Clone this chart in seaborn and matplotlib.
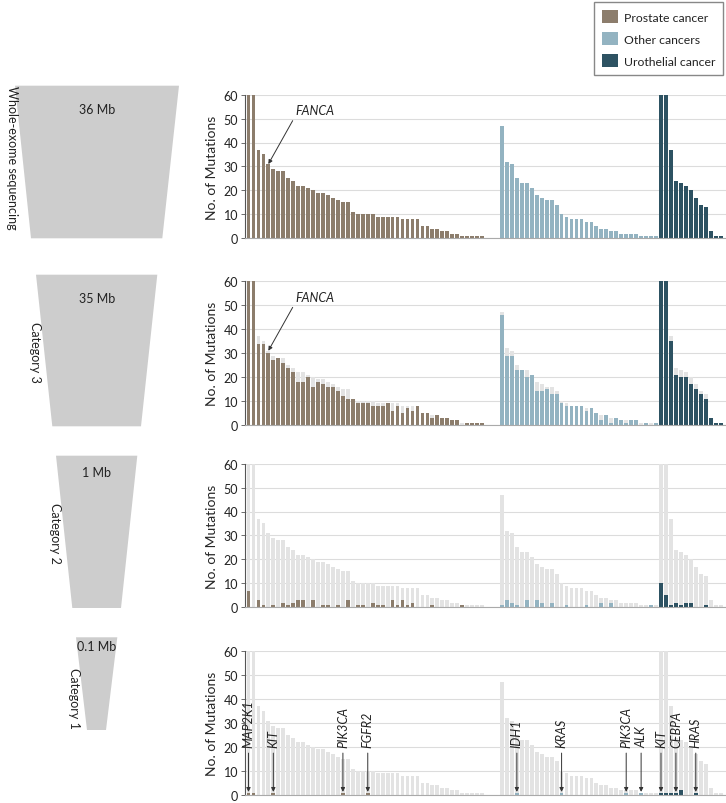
import numpy as np
import pandas as pd
import matplotlib
matplotlib.use('Agg')
import matplotlib.pyplot as plt
from matplotlib.patches import Patch, Polygon
import seaborn as sns

# ── data ────────────────────────────────────────────────────
groups = ['Prostate cancer', 'Other cancers', 'Urothelial cancer']
colors = ['#8c7d6c', '#93b3c1', '#2d5262']
group_start = [0, 51, 83]          # slot where each group begins (gap after prostate)

# whole-exome sequencing (first two bars run off the 60 scale)
pros_wes = [75, 68, 37, 35, 31, 29, 28, 28, 25, 24, 22, 22, 21, 20, 19, 19, 18, 17, 16, 15,
            15, 11, 10, 10, 10, 10, 9, 9, 9, 9, 9, 8, 8, 8, 8, 5, 5, 4, 4, 3,
            3, 2, 2, 1, 1, 1, 1, 1]
other_wes = [47, 32, 31, 25, 23, 23, 21, 18, 17, 16, 16, 14, 10, 9, 8, 8, 8, 7, 7, 5,
             4, 4, 3, 3, 2, 2, 2, 2, 1, 1, 1, 1]
uro_wes = [75, 70, 37, 24, 23, 22, 20, 17, 14, 13, 3, 1, 1]

# category 3
pros_c3 = [75, 68, 34, 34, 30, 27, 28, 26, 24, 22, 18, 18, 20, 16, 18, 17, 16, 16, 14, 12,
           11, 11, 9, 9, 9, 8, 8, 8, 9, 6, 8, 5, 7, 6, 8, 5, 5, 3, 4, 3,
           3, 2, 2, 0, 1, 1, 1, 1]
other_c3 = [46, 29, 29, 23, 23, 20, 21, 14, 14, 15, 13, 13, 9, 8, 8, 8, 8, 6, 7, 5,
            2, 4, 1, 3, 2, 1, 2, 2, 0, 1, 0, 1]
uro_c3 = [75, 70, 35, 21, 20, 20, 17, 15, 13, 11, 3, 1, 1]

# category 2
pros_c2 = [7, 0, 3, 1, 0, 1, 0, 2, 1, 2, 3, 3, 0, 3, 0, 1, 1, 0, 1, 0,
           3, 0, 1, 1, 0, 2, 1, 1, 0, 3, 1, 3, 1, 2, 0, 0, 0, 1, 0, 0,
           0, 0, 0, 1, 0, 0, 0, 0]
other_c2 = [1, 3, 2, 1, 0, 3, 0, 3, 2, 0, 2, 0, 0, 1, 0, 0, 0, 1, 0, 0,
            2, 0, 2, 0, 0, 0, 0, 0, 0, 0, 1, 0]
uro_c2 = [10, 5, 1, 2, 1, 2, 2, 0, 0, 1, 0, 0, 0]

# category 1
pros_c1 = [1, 1, 0, 0, 0, 1, 0, 0, 0, 0, 0, 0, 0, 0, 0, 0, 0, 0, 0, 1,
           0, 0, 0, 0, 1, 0, 0, 0, 0, 0, 0, 0, 0, 0, 0, 0, 0, 0, 0, 0,
           0, 0, 0, 0, 0, 0, 0, 0]
other_c1 = [0, 0, 0, 1, 0, 0, 0, 0, 0, 0, 0, 0, 1, 0, 0, 0, 0, 0, 0, 0,
            0, 0, 0, 0, 0, 1, 0, 0, 1, 0, 0, 0]
uro_c1 = [1, 1, 1, 1, 2, 0, 0, 1, 0, 0, 0, 0, 0]

gene_names = ['MAP2K1', 'KIT', 'PIK3CA', 'FGFR2', 'IDH1', 'KRAS', 'PIK3CA', 'ALK',
              'KIT', 'CEBPA', 'HRAS']
gene_slots = [0, 5, 19, 24, 54, 63, 76, 79, 83, 86, 90]

panel_names = ['Whole-exome sequencing', 'Category 3', 'Category 2', 'Category 1']
panel_sizes = ['36 Mb', '35 Mb', '1 Mb', '0.1 Mb']


def make_df(p, o, u):
    vals = p + o + u
    pos, grp = [], []
    for g, start, v in zip(groups, group_start, [p, o, u]):
        pos += list(range(start, start + len(v)))
        grp += [g] * len(v)
    return pd.DataFrame({'pos': pos, 'value': vals, 'group': grp})


df_wes = make_df(pros_wes, other_wes, uro_wes)
panels = [df_wes,
          make_df(pros_c3, other_c3, uro_c3),
          make_df(pros_c2, other_c2, uro_c2),
          make_df(pros_c1, other_c1, uro_c1)]

# ── style ───────────────────────────────────────────────────
sns.set_theme(style='white')
plt.rcParams['font.family'] = ['Lato', 'DejaVu Sans']
plt.rcParams['text.color'] = '#222222'

W, H = 726, 804
fig = plt.figure(figsize=(W / 100, H / 100), dpi=100)

# bar panels, placed in pixel terms
ax_left, ax_right = 245, 726
zero_y = [239.3, 426.0, 608.3, 796.0]
ax_h = 143.7
bar_w = 0.76
arrow_kw = dict(arrowstyle='-|>', color='#333333', lw=0.7, mutation_scale=6)

for k, df in enumerate(panels):
    ax = fig.add_axes([ax_left / W, 1 - zero_y[k] / H, (ax_right - ax_left) / W, ax_h / H])
    if k > 0:
        sns.barplot(data=df_wes, x='pos', y='value', color='#e3e3e3', native_scale=True,
                    width=bar_w, linewidth=0, saturation=1, errorbar=None, ax=ax)
    sns.barplot(data=df, x='pos', y='value', hue='group', hue_order=groups, palette=colors,
                native_scale=True, width=bar_w, linewidth=0, saturation=1, errorbar=None,
                legend=False, ax=ax)
    ax.set_xlim(-0.7, 96.08)
    ax.set_ylim(0, 60)
    ax.set_yticks(range(0, 61, 10))
    ax.set_xticks([])
    ax.set_xlabel('')
    ax.set_ylabel('No. of Mutations', fontsize=10, labelpad=4)
    ax.yaxis.grid(True, color='#dcdcdc', lw=0.8)
    ax.set_axisbelow(True)
    for s in ['top', 'right']:
        ax.spines[s].set_visible(False)
    ax.spines['left'].set_color('#555555')
    ax.spines['left'].set_linewidth(0.8)
    ax.spines['bottom'].set_color('#aaaaaa')
    ax.spines['bottom'].set_linewidth(0.8)
    ax.tick_params(axis='y', length=3, width=0.6, color='#555555', labelsize=9, pad=2,
                   labelcolor='#222222', left=True)

    if k < 2:
        ax.annotate('FANCA', xy=(4, 31), xytext=(9.4, 53.5), ha='left', va='center',
                    style='italic', fontsize=9,
                    arrowprops=dict(relpos=(0.0, 0.0), shrinkA=1, shrinkB=0, **arrow_kw))
    if k == 3:
        for name, slot in zip(gene_names, gene_slots):
            ax.text(slot, 20, name, rotation=90, ha='center', va='bottom',
                    style='italic', fontsize=9)
            ax.annotate('', xy=(slot, 1.3), xytext=(slot, 17.5),
                        arrowprops=dict(shrinkA=0, shrinkB=0, **arrow_kw))

# left funnels
axf = fig.add_axes([0, 0, 240 / W, 1])
axf.set_xlim(0, 240)
axf.set_ylim(H, 0)
axf.axis('off')
funnel_top = [86.7, 275.7, 456.7, 638.3]
funnel_bot = [239.3, 427.3, 609.0, 731.0]
funnel_tl = [15, 36, 56, 76]
funnel_tr = [179, 157.3, 137.3, 117.3]
funnel_bl = [31, 52.3, 72.3, 87]
funnel_br = [162.3, 141, 121, 106]
size_y = [109.5, 299.3, 473.3, 646.7]
name_x = [11.5, 35, 55, 73.5]
name_y = [157.5, 352, 533, 698]
for k in range(4):
    poly = Polygon([(funnel_tl[k], funnel_top[k]), (funnel_tr[k], funnel_top[k]),
                    (funnel_br[k], funnel_bot[k]), (funnel_bl[k], funnel_bot[k])],
                   closed=True, facecolor='#cdcdcd', edgecolor='none')
    axf.add_patch(poly)
    axf.text(96.7, size_y[k], panel_sizes[k], ha='center', va='center', fontsize=9)
    axf.text(name_x[k], name_y[k], panel_names[k], rotation=270, ha='center', va='center',
             fontsize=9)

# legend
handles = [Patch(facecolor=c, edgecolor='none') for c in colors]
fig.legend(handles, groups, loc='upper right', bbox_to_anchor=(0.996, 0.996),
           fontsize=8.8, frameon=True, fancybox=False, edgecolor='#888888',
           handlelength=1.3, handleheight=1.25, handletextpad=0.45, labelspacing=0.75,
           borderpad=0.65, borderaxespad=0, framealpha=1)

fig.savefig('out.png', dpi=100)
